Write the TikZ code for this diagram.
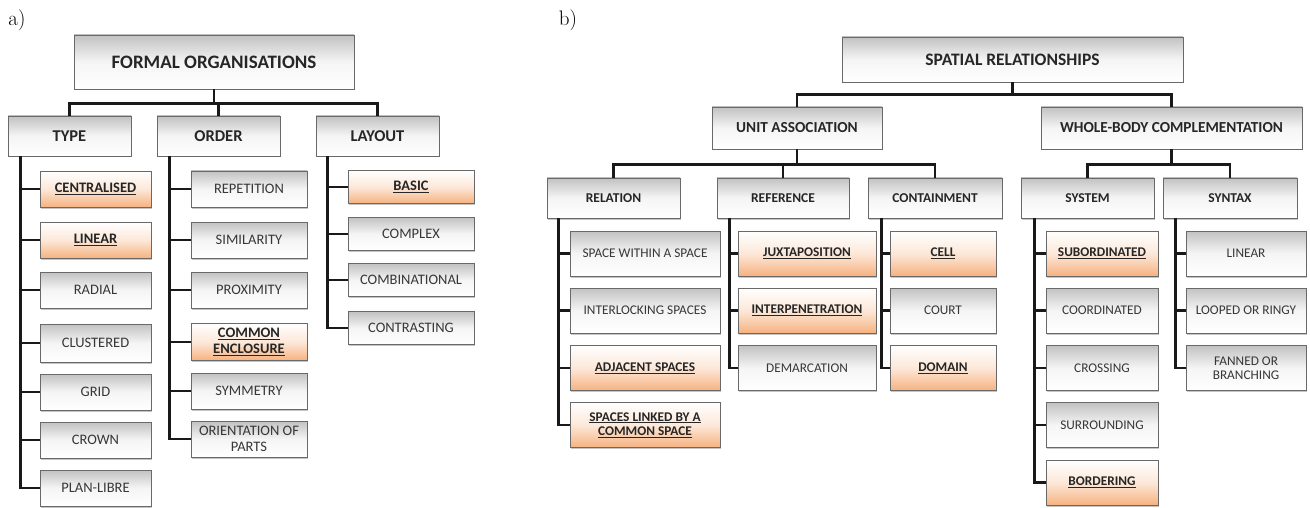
\documentclass[tikz,border=0pt]{standalone}
\usepackage{fontspec}
\newfontfamily\boxfont{Carlito}
\usetikzlibrary{shadows}
\definecolor{orng}{RGB}{246,178,128}
\definecolor{bord}{RGB}{105,105,105}
\definecolor{txt}{RGB}{55,55,55}
\newcommand\ulb[1]{\textbf{\underline{#1}}}
\tikzset{
  base/.style={draw=bord, line width=0.9pt, align=center, inner sep=2pt, text=txt,
    drop shadow={shadow xshift=1.3pt, shadow yshift=-1.5pt, fill=black!45}},
  gbox/.style={base, top color=black!24, bottom color=white, middle color=black!4},
  obox/.style={base, top color=white, bottom color=orng, middle color=orng!30, text=black!85},
  hA/.style={font=\boxfont\fontsize{19}{22}\selectfont\bfseries, text=black!85},
  sA/.style={font=\boxfont\fontsize{16.5}{19}\selectfont\bfseries, text=black!85},
  lA/.style={font=\boxfont\fontsize{14.5}{16.5}\selectfont},
  hB/.style={font=\boxfont\fontsize{17.5}{20}\selectfont\bfseries, text=black!85},
  sB/.style={font=\boxfont\fontsize{15.3}{18}\selectfont\bfseries, text=black!85},
  tB/.style={font=\boxfont\fontsize{13.5}{16}\selectfont\bfseries, text=black!85},
  lB/.style={font=\boxfont\fontsize{13.3}{15.5}\selectfont},
  conn/.style={line width=2.5pt, black!90},
  lbl/.style={font=\fontsize{21}{24}\selectfont, inner sep=0pt},
}
\begin{document}
\begin{tikzpicture}[x=1pt,y=1pt]
\useasboundingbox (0,0) rectangle (1310,-508);
% labels
\node[lbl] (la) at (17,-20) {a)};
\node[lbl] (lb) at (568,-20) {b)};
% ---------- a) ----------
\node[gbox, hA, minimum width=280pt, minimum height=54pt] (fo) at (214,-62) {FORMAL ORGANISATIONS};
\node[gbox, sA, minimum width=123pt, minimum height=40pt] (type) at (69.5,-136) {TYPE};
\node[gbox, sA, minimum width=123pt, minimum height=40pt] (order) at (218.5,-136) {ORDER};
\node[gbox, sA, minimum width=123pt, minimum height=40pt] (layout) at (377.5,-136) {LAYOUT};
\draw[conn] (fo.south) -- ++(0,-14) -| (type.north);
\draw[conn] (fo.south) -- ++(0,-14) -| (order.north);
\draw[conn] (fo.south) -- ++(0,-14) -| (layout.north);
% type children
\tikzset{ta/.style={lA, minimum width=111pt, minimum height=36pt}}
\node[obox, ta] (t1) at (95.5,-189) {\ulb{CENTRALISED}};
\node[obox, ta] (t2) at (95.5,-240) {\ulb{LINEAR}};
\node[gbox, ta] (t3) at (95.5,-290) {RADIAL};
\node[gbox, ta, minimum height=38pt] (t4) at (95.5,-343) {CLUSTERED};
\node[gbox, ta] (t5) at (95.5,-392) {GRID};
\node[gbox, ta] (t6) at (95.5,-440) {CROWN};
\node[gbox, ta] (t7) at (95.5,-488) {PLAN-LIBRE};
\foreach \c in {t1,t2,t3,t4,t5,t6,t7} \draw[conn] ([xshift=13pt]type.south west) |- (\c.west);
% order children
\tikzset{oa/.style={lA, minimum width=116pt, minimum height=36pt}}
\node[gbox, oa] (o1) at (249,-189) {REPETITION};
\node[gbox, oa] (o2) at (249,-240) {SIMILARITY};
\node[gbox, oa] (o3) at (249,-290) {PROXIMITY};
\node[obox, oa, minimum height=37pt] (o4) at (249,-342) {\ulb{COMMON}\\[-1pt]\ulb{ENCLOSURE}};
\node[gbox, oa] (o5) at (249,-391) {SYMMETRY};
\node[gbox, oa] (o6) at (249,-439) {ORIENTATION OF\\[-1pt]PARTS};
\foreach \c in {o1,o2,o3,o4,o5,o6} \draw[conn] ([xshift=13pt]order.south west) |- (\c.west);
% layout children
\tikzset{la/.style={lA, minimum width=126pt, minimum height=33pt}}
\node[obox, la] (l1) at (411,-187) {\ulb{BASIC}};
\node[gbox, la] (l2) at (411,-234) {COMPLEX};
\node[gbox, la] (l3) at (411,-280) {COMBINATIONAL};
\node[gbox, la] (l4) at (411,-328) {CONTRASTING};
\foreach \c in {l1,l2,l3,l4} \draw[conn] ([xshift=12pt]layout.south west) |- (\c.west);
% ---------- b) ----------
\node[gbox, hB, minimum width=341pt, minimum height=45pt] (sr) at (1012.5,-59.5) {SPATIAL RELATIONSHIPS};
\node[gbox, sB, minimum width=170pt, minimum height=42pt] (ua) at (797,-128) {UNIT ASSOCIATION};
\node[gbox, sB, minimum width=261pt, minimum height=42pt] (wb) at (1171.5,-128) {WHOLE-BODY COMPLEMENTATION};
\draw[conn] (sr.south) -- ++(0,-12) -| (ua.north);
\draw[conn] (sr.south) -- ++(0,-12) -| (wb.north);
\tikzset{mb/.style={tB, minimum height=40pt}}
\node[gbox, mb, minimum width=133pt] (rel) at (613.5,-198) {RELATION};
\node[gbox, mb, minimum width=132pt] (ref) at (783,-198) {REFERENCE};
\node[gbox, mb, minimum width=134pt] (con) at (935,-198) {CONTAINMENT};
\node[gbox, mb, minimum width=133pt] (sys) at (1087.5,-198) {SYSTEM};
\node[gbox, mb, minimum width=134pt] (syn) at (1230,-198) {SYNTAX};
\draw[conn] (ua.south) -- ++(0,-15) -| (rel.north);
\draw[conn] (ua.south) -- ++(0,-15) -| (ref.north);
\draw[conn] (ua.south) -- ++(0,-15) -| (con.north);
\draw[conn] (wb.south) -- ++(0,-15) -| (sys.north);
\draw[conn] (wb.south) -- ++(0,-15) -| (syn.north);
% relation children
\tikzset{lb/.style={lB, minimum height=45pt}}
\node[gbox, lb, minimum width=150pt] (r1) at (645,-253.5) {SPACE WITHIN A SPACE};
\node[gbox, lb, minimum width=150pt] (r2) at (645,-310.5) {INTERLOCKING SPACES};
\node[obox, lb, minimum width=150pt] (r3) at (645,-368) {\ulb{ADJACENT SPACES}};
\node[obox, lb, minimum width=150pt] (r4) at (645,-425) {\ulb{SPACES LINKED BY A}\\[-1pt]\ulb{COMMON SPACE}};
\foreach \c in {r1,r2,r3,r4} \draw[conn] ([xshift=12pt]rel.south west) |- (\c.west);
% reference children
\node[obox, lb, minimum width=138pt] (f1) at (807,-253.5) {\ulb{JUXTAPOSITION}};
\node[obox, lb, minimum width=138pt] (f2) at (807,-310.5) {\ulb{INTERPENETRATION}};
\node[gbox, lb, minimum width=138pt] (f3) at (807,-368) {DEMARCATION};
\foreach \c in {f1,f2,f3} \draw[conn] ([xshift=13pt]ref.south west) |- (\c.west);
% containment children
\node[obox, lb, minimum width=106pt] (c1) at (943,-253.5) {\ulb{CELL}};
\node[gbox, lb, minimum width=106pt] (c2) at (943,-310.5) {COURT};
\node[obox, lb, minimum width=106pt] (c3) at (943,-368) {\ulb{DOMAIN}};
\foreach \c in {c1,c2,c3} \draw[conn] ([xshift=14pt]con.south west) |- (\c.west);
% system children
\node[obox, lb, minimum width=112pt] (s1) at (1102,-253.5) {\ulb{SUBORDINATED}};
\node[gbox, lb, minimum width=112pt] (s2) at (1102,-310.5) {COORDINATED};
\node[gbox, lb, minimum width=112pt] (s3) at (1102,-368) {CROSSING};
\node[gbox, lb, minimum width=112pt] (s4) at (1102,-425) {SURROUNDING};
\node[obox, lb, minimum width=112pt] (s5) at (1102,-482.5) {\ulb{BORDERING}};
\foreach \c in {s1,s2,s3,s4,s5} \draw[conn] ([xshift=14pt]sys.south west) |- (\c.west);
% syntax children
\node[gbox, lb, minimum width=120pt] (y1) at (1246,-253.5) {LINEAR};
\node[gbox, lb, minimum width=120pt] (y2) at (1246,-310.5) {LOOPED OR RINGY};
\node[gbox, lb, minimum width=120pt] (y3) at (1246,-368) {FANNED OR\\[-1pt]BRANCHING};
\foreach \c in {y1,y2,y3} \draw[conn] ([xshift=13pt]syn.south west) |- (\c.west);
\end{tikzpicture}
\end{document}
